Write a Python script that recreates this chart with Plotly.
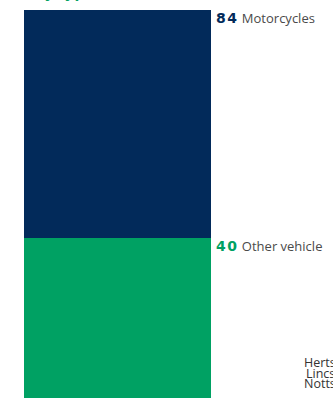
import plotly.graph_objects as go

categories = ["Motorcycles", "Other vehicle"]
values = [84, 40]
colors = ["#022a5a", "#00a163"]
side_label = ["Herts", "Lincs", "Notts"]
title_text = "by type"

W, H = 333, 398
# axis ranges chosen so value 84 sits near top and zero is below the visible area
y_lo, y_hi = 9.2, 85.83
x_lo, x_hi = -0.6283, 1.1524

fig = go.Figure()
for cat, val, col in zip(categories, values, colors):
    fig.add_trace(go.Bar(x=[0], y=[val], width=1, name=cat,
                         marker=dict(color=col, line=dict(width=0)),
                         opacity=1, hoverinfo="skip"))

for cat, val, col in zip(categories, values, colors):
    fig.add_annotation(
        x=0.5, y=val, xref="x", yref="y", xanchor="left", yanchor="top",
        xshift=3, yshift=3, showarrow=False,
        text=(f'<span style="font-family:DejaVu Sans;font-weight:900;font-size:14px;'
              f'letter-spacing:1.5px;color:{col}">{val}</span> {cat}'),
        font=dict(family="Open Sans", size=13, color="#4a4a4a"),
    )

for i, name in enumerate(side_label):
    fig.add_annotation(
        x=320 / W, y=1 - (362.5 + 10.5 * i) / H, xref="paper", yref="paper",
        xanchor="center", yanchor="middle", showarrow=False, text=name,
        font=dict(family="Open Sans", size=12.5, color="#333333"),
    )

fig.add_annotation(
    x=33 / W, y=1, xref="paper", yref="paper", xanchor="left", yanchor="bottom",
    yshift=-4, showarrow=False, text=f"<b>{title_text}</b>",
    font=dict(family="Open Sans", size=16, color="#00a163"),
)

fig.update_layout(
    width=W, height=H, margin=dict(l=0, r=0, t=0, b=0),
    barmode="overlay", showlegend=False, bargap=0,
    plot_bgcolor="white", paper_bgcolor="white",
    xaxis=dict(range=[x_lo, x_hi], visible=False, fixedrange=True),
    yaxis=dict(range=[y_lo, y_hi], visible=False, fixedrange=True),
)

fig.write_html("out.html")
